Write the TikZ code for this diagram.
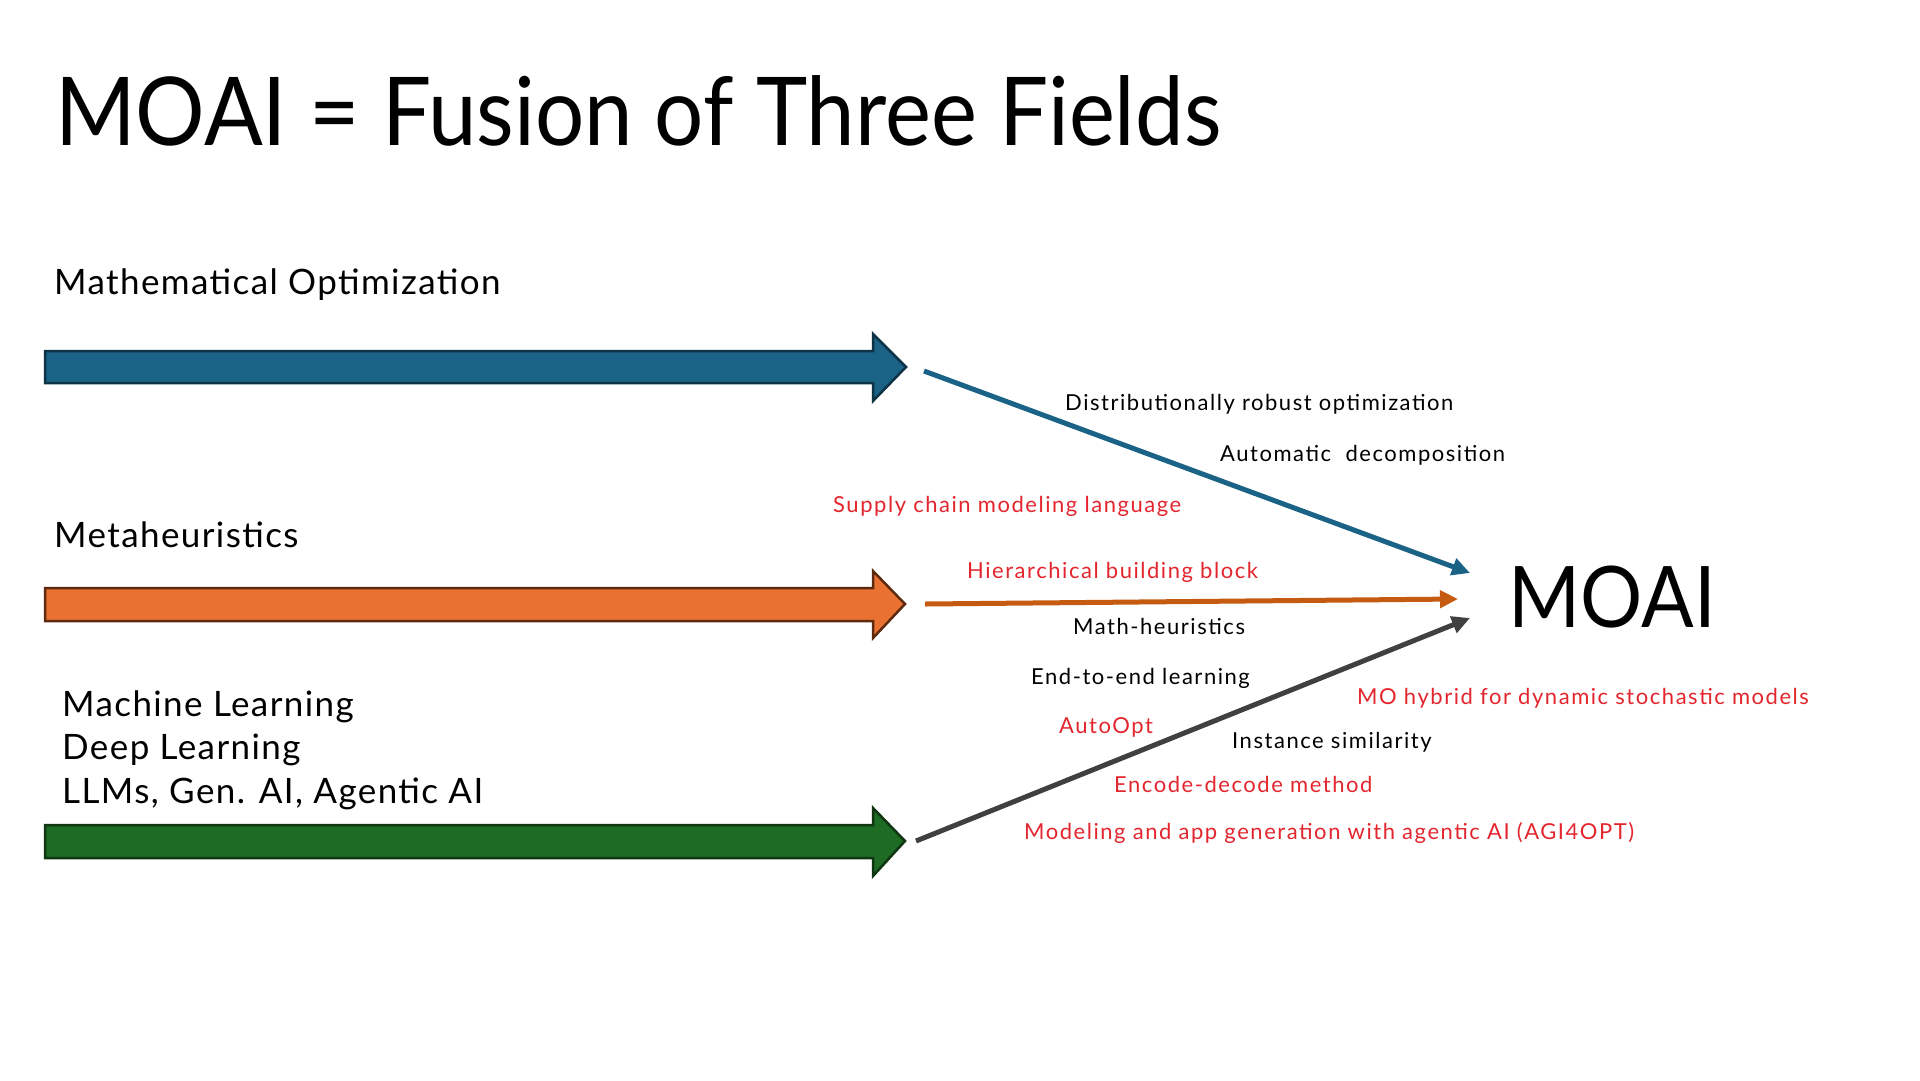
\documentclass[tikz,border=0pt]{standalone}
\usepackage{fontspec}
\setmainfont{Lato}
\newfontfamily\headfont[FakeStretch=0.915]{Lato}
\newfontfamily\fieldfont[LetterSpace=4]{Lato}
\newfontfamily\topicfont[LetterSpace=7]{Lato}
\usepackage{xcolor}
\usepackage{tikz}
\usetikzlibrary{arrows.meta, positioning}
\definecolor{mathblue}{HTML}{1B6386}
\definecolor{mathedge}{HTML}{0E3347}
\definecolor{metaorange}{HTML}{E97132}
\definecolor{metaedge}{HTML}{5E2A0E}
\definecolor{metaline}{HTML}{C55A11}
\definecolor{learngreen}{HTML}{1E6B24}
\definecolor{learnedge}{HTML}{0F3511}
\definecolor{fusiongray}{HTML}{404040}
\definecolor{hotred}{HTML}{E3262E}

\begin{document}
\begin{tikzpicture}[x=1pt, y=-1pt, >={Triangle[length=18pt, width=17pt]}]
    \tikzset{
        field/.style={line width=2.5pt, line join=miter},
        fieldname/.style={anchor=base west, inner sep=0pt, font=\fieldfont\fontsize{35}{40}\selectfont},
        link/.style={->, line width=5pt},
        topic/.style={anchor=west, inner sep=0pt, text height=16pt, text depth=5pt, font=\topicfont\fontsize{22}{26}\selectfont},
        hot/.style={topic, text=hotred},
    }
    \useasboundingbox (0,0) rectangle (1920,1080);

    \node[anchor=base west, inner sep=0pt, font=\headfont\fontsize{95}{100}\selectfont] (title) at (55,145) {MOAI = Fusion of Three Fields};

    % ── LEFT: THE THREE FIELDS ─────────────────────────────────────────
    \node[fieldname] (mo-name) at (54,294) {Mathematical Optimization};
    \node[fieldname] (meta-name) at (54,547) {Metaheuristics};
    \node[fieldname] (ml-name) at (62,716) {Machine Learning};
    \node[fieldname] (dl-name) at (62,759) {Deep Learning};
    \node[fieldname] (ai-name) at (62,803) {LLMs, Gen. AI, Agentic AI};

    % Block arrows
    \filldraw[field, fill=mathblue, draw=mathedge] (45,351) -- (873,351) -- (873,334) -- (906,367) -- (873,401) -- (873,383) -- (45,383) -- cycle;
    \filldraw[field, fill=metaorange, draw=metaedge] (45,588) -- (873,588) -- (873,571) -- (905,604) -- (873,638) -- (873,621) -- (45,621) -- cycle;
    \filldraw[field, fill=learngreen, draw=learnedge] (45,825) -- (873,825) -- (873,808) -- (905,841) -- (873,876) -- (873,858) -- (45,858) -- cycle;

    % ── RIGHT: MOAI ───────────────────────────────────────────────────
    \node[anchor=base west, inner sep=0pt, font=\headfont\fontsize{85}{90}\selectfont] (moai) at (1508,627) {MOAI};

    \coordinate (mo-out) at (924,371);
    \coordinate (meta-out) at (925,604);
    \coordinate (ml-out) at (916,841);
    \coordinate (moai-top) at (1470,573);
    \coordinate (moai-mid) at (1458,599);
    \coordinate (moai-low) at (1470,618);

    \draw[link, mathblue] (mo-out) -- (moai-top);
    \draw[link, metaline] (meta-out) -- (moai-mid);
    \draw[link, fusiongray] (ml-out) -- (moai-low);

    % Topics along the way
    \node[topic] (dro) at (1065,405) {Distributionally robust optimization};
    \node[topic] (autodec) at (1220,456) {Automatic~ decomposition};
    \node[hot] (scml) at (833,507) {Supply chain modeling language};
    \node[hot] (hbb) at (967,573) {Hierarchical building block};
    \node[topic] (mathheur) at (1073,629) {Math-heuristics};
    \node[topic] (e2e) at (1031,679) {End-to-end learning};
    \node[hot] (hybrid) at (1357,699) {MO hybrid for dynamic stochastic models};
    \node[hot] (autoopt) at (1059,728) {AutoOpt};
    \node[topic] (instsim) at (1232,743) {Instance similarity};
    \node[hot] (encdec) at (1114,787) {Encode-decode method};
    \node[hot] (agi) at (1024,834) {Modeling and app generation with agentic AI (AGI4OPT)};
\end{tikzpicture}
\end{document}
